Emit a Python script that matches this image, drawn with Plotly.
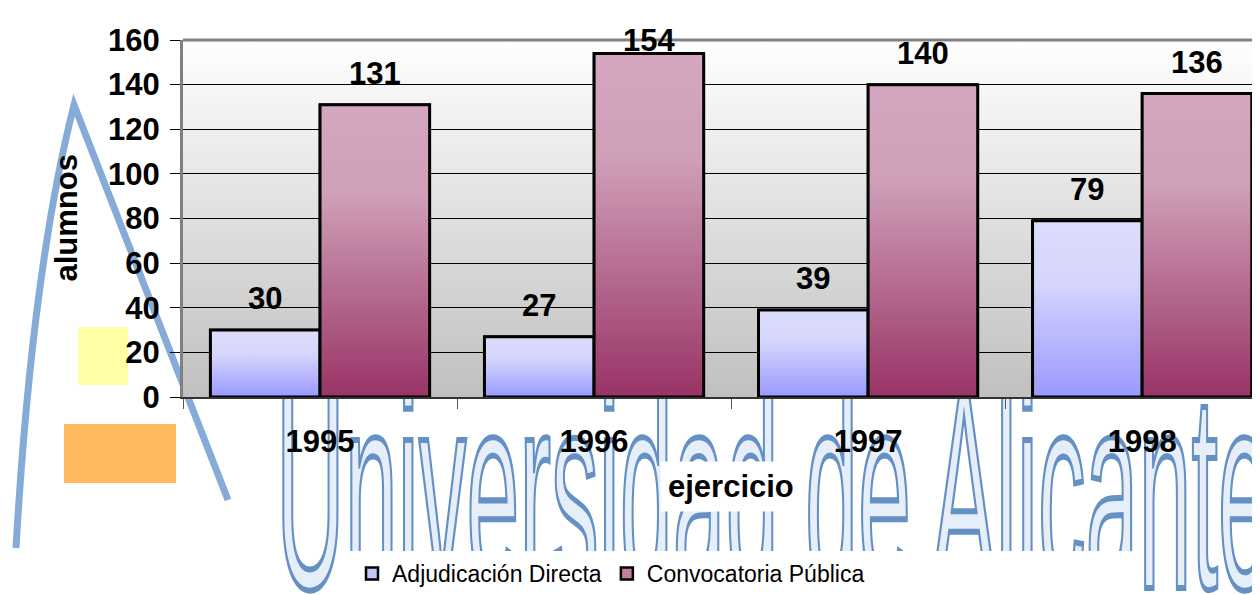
import base64
import plotly.graph_objects as go

# datos
anios = ["1995", "1996", "1997", "1998"]
adjudicacion_directa = [30, 27, 39, 79]
convocatoria_publica = [131, 154, 140, 136]
nombres = ["Adjudicación Directa", "Convocatoria Pública"]
y_ticks = [0, 20, 40, 60, 80, 100, 120, 140, 160]

series = [adjudicacion_directa, convocatoria_publica]
pos = list(range(len(anios)))

# estilos
FONT_B = dict(family="Liberation Sans, Arial, sans-serif", size=31, weight="bold", color="black")
FONT_LEG = dict(family="Liberation Sans, Arial, sans-serif", size=23, color="black")
colores_leyenda = ["#c4c4fc", "#bf7f9f"]
degradados = [
    [[0, "#9999ff"], [0.65, "#d6d6fc"], [1, "#dcdcfc"]],
    [[0, "#993366"], [0.7, "#d0a0b9"], [1, "#d5a6bf"]],
]
ANCHO = 0.4  # ancho de cada barra (bargap 0.2, dos series)
Y_MAX = 160

# geometria: ventana 1260x595, la pagina tiene 8px de margen en el body
VW, VH, OFF = 1260, 595, 8
P_IZQ, P_SUP, P_DER, P_INF = 183, 40, 1260, 397  # area de dibujo en px de ventana
W, H = VW - OFF, VH - OFF
ML, MT = P_IZQ - OFF, P_SUP - OFF
MR, MB = VW - P_DER, VH - P_INF
PW, PH = P_DER - P_IZQ, P_INF - P_SUP


def px_x(px):
    return (px - P_IZQ) / PW


def px_y(py):
    return (P_INF - py) / PH


# marca de agua (logo de fondo) como svg, en px de ventana
marca = f'''<svg xmlns="http://www.w3.org/2000/svg" width="{VW}" height="{VH}" viewBox="0 0 {VW} {VH}" preserveAspectRatio="none">
<path d="M 16 548 Q 32 270 74 105 L 228 500" fill="none" stroke="#86abd8" stroke-width="7"/>
<rect x="78" y="327" width="50" height="58" fill="#ffffa6"/>
<rect x="64" y="424" width="112" height="59" fill="#ffb95f"/>
<g transform="translate(276,588) scale(0.32,1)">
<text x="0" y="0" font-family="Liberation Sans, Arial" font-size="280" fill="#e6eff9"
 stroke="#6590c4" stroke-width="4.5" vector-effect="non-scaling-stroke"
 textLength="{995/0.32:.0f}" lengthAdjust="spacingAndGlyphs">Universidad de Alicante</text>
</g>
</svg>'''
fondo = '''<svg xmlns="http://www.w3.org/2000/svg" width="100" height="100" viewBox="0 0 100 100" preserveAspectRatio="none">
<defs><linearGradient id="g" x1="0" y1="0" x2="0" y2="1">
<stop offset="0" stop-color="#ffffff"/><stop offset="1" stop-color="#c0c0c0"/></linearGradient></defs>
<rect width="100" height="100" fill="url(#g)"/></svg>'''


def data_uri(svg):
    return "data:image/svg+xml;base64," + base64.b64encode(svg.encode("utf-8")).decode("ascii")


fig = go.Figure()

# barras (leyenda y contorno)
for k, (vals, nombre) in enumerate(zip(series, nombres)):
    fig.add_trace(go.Bar(
        x=pos, y=vals, name=nombre,
        marker=dict(color=colores_leyenda[k], line=dict(color="black", width=2.5)),
    ))

# relleno degradado de cada barra + etiqueta de valor
for k, vals in enumerate(series):
    for i, v in zip(pos, vals):
        x0 = i - ANCHO + k * ANCHO
        x1 = x0 + ANCHO
        fig.add_trace(go.Scatter(
            x=[x0, x1, x1, x0, x0], y=[0, 0, v, v, 0],
            mode="lines", fill="toself",
            fillgradient=dict(type="vertical", colorscale=degradados[k]),
            line=dict(color="black", width=3),
            showlegend=False, hoverinfo="skip",
        ))
        # la etiqueta no puede salirse por arriba del grafico (como en Excel)
        tope = P_INF - v / Y_MAX * PH - 20 - 23
        desplaz = 12 - max(0, 29 - tope)
        fig.add_annotation(
            x=x0 + ANCHO / 2, y=v, text=str(v), showarrow=False,
            yanchor="bottom", yshift=desplaz, font=FONT_B,
        )

fig.add_annotation(
    text="alumnos", textangle=-90, xref="paper", yref="paper",
    x=px_x(66), y=0.5, xanchor="center", yanchor="middle",
    showarrow=False, font=FONT_B,
)
fig.add_annotation(
    text="ejercicio", xref="x", yref="paper", x=(pos[0] + pos[-1]) / 2,
    y=px_y(486), xanchor="center", yanchor="middle",
    showarrow=False, font=FONT_B, bgcolor="white", borderpad=7,
)

fig.update_layout(
    width=W, height=H,
    margin=dict(l=ML, r=MR, t=MT, b=MB, autoexpand=False),
    paper_bgcolor="white",
    plot_bgcolor="rgba(0,0,0,0)",
    barmode="group", bargap=0.2, bargroupgap=0,
    showlegend=True,
    legend=dict(
        orientation="h", x=px_x(352), xanchor="left",
        y=px_y(552), yanchor="top", bgcolor="rgba(0,0,0,0)",
        font=FONT_LEG, traceorder="normal",
    ),
    images=[
        dict(source=data_uri(marca), xref="paper", yref="paper",
             x=px_x(0), y=px_y(0), sizex=VW / PW, sizey=VH / PH,
             xanchor="left", yanchor="top", sizing="stretch", layer="below"),
        dict(source=data_uri(fondo), xref="paper", yref="paper",
             x=0, y=1, sizex=1, sizey=1,
             xanchor="left", yanchor="top", sizing="stretch", layer="below"),
    ],
    shapes=[
        # borde superior del area de dibujo
        dict(type="line", xref="paper", yref="paper", x0=0, x1=1, y0=1, y1=1,
             line=dict(color="#808080", width=3)),
        # fondo blanco de la leyenda
        dict(type="rect", xref="paper", yref="paper", layer="below",
             x0=px_x(349), x1=px_x(1141), y0=px_y(600), y1=px_y(551),
             fillcolor="white", line=dict(width=0)),
    ],
)

fig.update_yaxes(
    range=[0, Y_MAX], tickvals=y_ticks, ticks="outside", ticklen=10,
    tickcolor="black", showgrid=True, gridcolor="black", gridwidth=1,
    zeroline=False, showline=True, linecolor="#808080", linewidth=3,
    tickfont=FONT_B, ticklabelstandoff=4,
)
fig.update_xaxes(
    range=[-0.5, 3.43], tickvals=pos, ticktext=anios, ticks="",
    showgrid=False, zeroline=False, showline=True, linecolor="#333333", linewidth=2,
    tickfont=FONT_B, ticklabelstandoff=16,
    minor=dict(tickvals=[i - 0.5 for i in pos] + [pos[-1] + 0.5], ticks="outside",
               ticklen=10, tickcolor="#555555"),
)

fig.write_html("out.html")
